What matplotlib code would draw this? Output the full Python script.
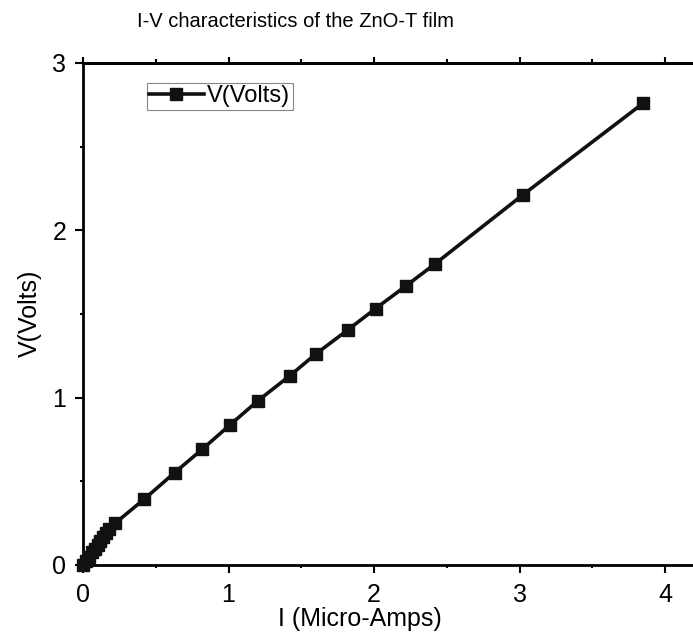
import matplotlib
matplotlib.use("Agg")
import matplotlib.pyplot as plt
from matplotlib.ticker import MultipleLocator

plt.rcParams['font.family'] = ['Liberation Sans', 'DejaVu Sans']

# measured I-V data of the ZnO-T film
current = [0.0, 0.02, 0.04, 0.06, 0.08, 0.10, 0.12, 0.14, 0.16, 0.18,
           0.22, 0.42, 0.63, 0.82, 1.01, 1.20, 1.42, 1.60, 1.82, 2.01,
           2.22, 2.42, 3.02, 3.85]
voltage = [0.0, 0.025, 0.05, 0.075, 0.098, 0.12, 0.145, 0.168, 0.19, 0.212,
           0.249, 0.393, 0.552, 0.692, 0.837, 0.98, 1.13, 1.261, 1.405, 1.532,
           1.668, 1.80, 2.21, 2.76]

fig = plt.figure(figsize=(6.93, 6.42), dpi=100)
ax = fig.add_axes([0.1198, 0.12, 0.945, 0.782])

ax.plot(current, voltage, color='#111111', lw=2.6, marker='s', ms=9,
        clip_on=False, zorder=3, label='V(Volts)')

ax.set_xlim(0, 4.5)
ax.set_ylim(0, 3)
ax.xaxis.set_major_locator(MultipleLocator(1))
ax.xaxis.set_minor_locator(MultipleLocator(0.5))
ax.yaxis.set_major_locator(MultipleLocator(1))
ax.yaxis.set_minor_locator(MultipleLocator(0.5))

for side in ['left', 'bottom', 'top']:
    ax.spines[side].set_linewidth(2)
ax.spines['right'].set_visible(False)

ax.tick_params(axis='x', which='major', direction='out', length=6, width=1.5,
               labelsize=18, pad=7)
ax.tick_params(axis='y', which='major', direction='out', length=6, width=1.5,
               labelsize=18, pad=6)
ax.tick_params(which='minor', direction='out', length=2.5, width=1.5)

# short ticks along the top edge, no labels
top = ax.secondary_xaxis('top')
top.xaxis.set_major_locator(MultipleLocator(1))
top.xaxis.set_minor_locator(MultipleLocator(0.5))
top.tick_params(which='major', direction='out', length=4, width=1.5, labeltop=False)
top.tick_params(which='minor', direction='out', length=3, width=1.5)
top.spines['top'].set_linewidth(2)

ax.set_xlabel('I (Micro-Amps)', fontsize=18)
ax.xaxis.set_label_coords(0.52, 0.054, transform=fig.transFigure)
ax.set_ylabel('V(Volts)', fontsize=18)
ax.yaxis.set_label_coords(0.061, 0.512, transform=fig.transFigure)

fig.text(0.426, 0.966, 'I-V characteristics of the ZnO-T film',
         ha='center', va='center', fontsize=14.5)

leg = ax.legend(loc='upper left', bbox_to_anchor=(0.212, 0.871),
                bbox_transform=fig.transFigure, fontsize=17, fancybox=False,
                edgecolor='#888888', framealpha=1, borderaxespad=0,
                borderpad=0.1, handlelength=2.3, handletextpad=0.15)
leg.get_frame().set_linewidth(0.8)

fig.savefig('out.png', dpi=100)
